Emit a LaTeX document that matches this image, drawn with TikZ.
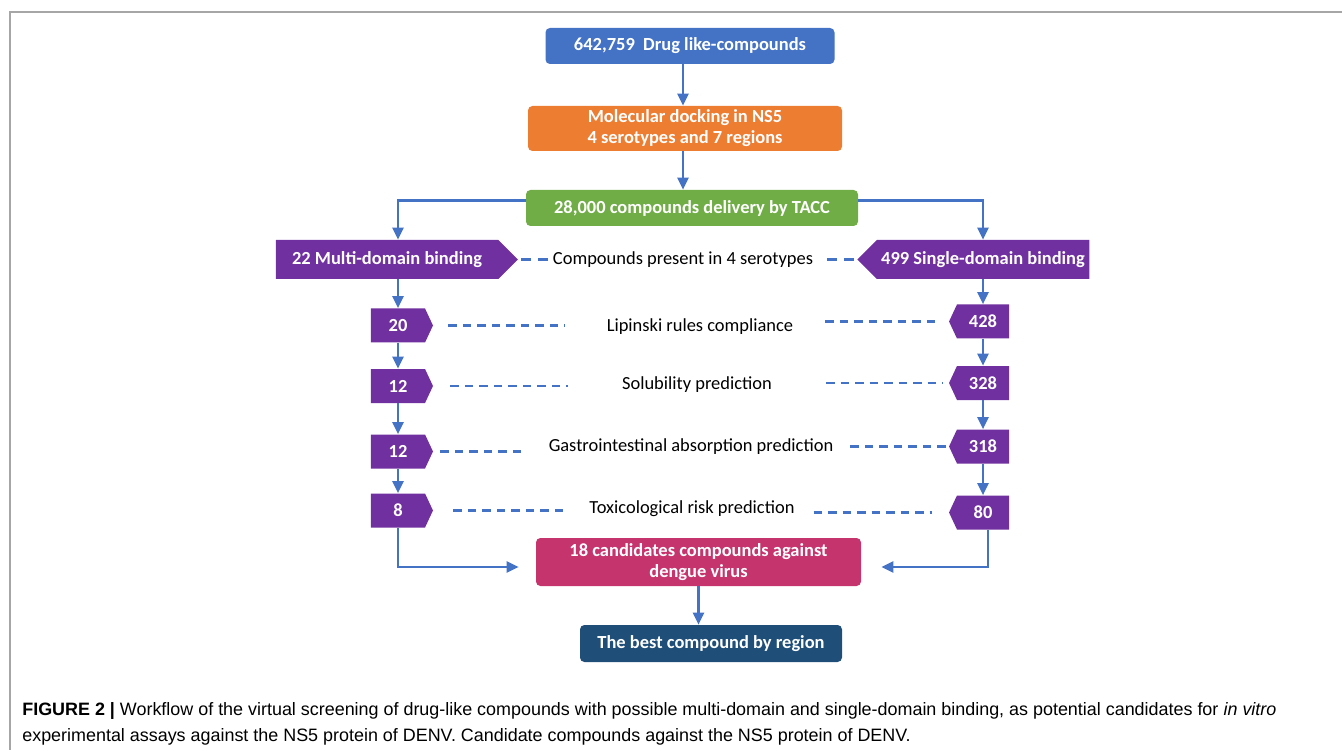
\documentclass[tikz,border=0pt]{standalone}
\usepackage{fontspec}
\setmainfont{Carlito}
\newfontfamily\capfont{Liberation Sans}
\usetikzlibrary{arrows.meta, shapes.symbols}
\definecolor{myblue}{RGB}{68,114,196}
\definecolor{myorange}{RGB}{237,125,49}
\definecolor{mygreen}{RGB}{112,173,71}
\definecolor{mypurple}{RGB}{112,48,160}
\definecolor{mypink}{RGB}{198,52,110}
\definecolor{mynavy}{RGB}{31,78,121}

\begin{document}
\begin{tikzpicture}
    % Define styles for boxes, filters and connectors
    \tikzstyle{box}=[rectangle, rounded corners=2.5pt, text=white, align=center, inner sep=0pt, font=\fontsize{10.5}{12}\selectfont\bfseries]
    \tikzstyle{start box}=[box, fill=myblue, minimum width=5.78cm, minimum height=0.72cm]
    \tikzstyle{dock box}=[box, fill=myorange, minimum width=6.28cm, minimum height=0.9cm]
    \tikzstyle{tacc box}=[box, fill=mygreen, minimum width=6.64cm, minimum height=0.72cm]
    \tikzstyle{result box}=[box, fill=mypink, minimum width=6.5cm, minimum height=0.96cm]
    \tikzstyle{best box}=[box, fill=mynavy, minimum width=5.24cm, minimum height=0.74cm]
    \tikzstyle{filter}=[signal, fill=mypurple, text=white, inner sep=0pt, minimum height=0.68cm, font=\fontsize{10.5}{12}\selectfont\bfseries]
    \tikzstyle{left filter}=[filter, signal to=east, signal pointer angle=130, minimum width=1.24cm]
    \tikzstyle{right filter}=[filter, signal to=west, signal pointer angle=130, minimum width=1.2cm]
    \tikzstyle{filter label}=[font=\fontsize{10.5}{12}\selectfont]
    \tikzstyle{arrow}=[-{Triangle[length=0.24cm,width=0.22cm]}, myblue, line width=1.25pt]
    \tikzstyle{link}=[myblue, line width=1.4pt, dash pattern=on 0.17cm off 0.12cm]

    \useasboundingbox (0,0) rectangle (26.84,15);
    \draw[gray!70, line width=0.8pt] (0.2,0) -- (0.2,14.76) -- (26.84,14.76);

    % Main steps
    \node[start box] (drug) at (13.8,14.08) {642,759\ \ Drug like-compounds};
    \node[dock box] (dock) at (13.7,12.43) {Molecular docking in NS5\\4 serotypes and 7 regions};
    \node[tacc box] (tacc) at (13.84,10.84) {28,000 compounds delivery by TACC};

    % Columns
    \coordinate (colL) at (7.96,0);
    \coordinate (colR) at (19.66,0);

    % Multi-domain branch
    \node[filter, signal to=east, minimum width=4.84cm, minimum height=0.78cm] (multi) at (7.74,9.81) {22 Multi-domain binding};
    \node[left filter] (L1) at (7.96,8.49) {20};
    \node[left filter] (L2) at (7.96,7.28) {12};
    \node[left filter] (L3) at (7.96,5.97) {12};
    \node[left filter] (L4) at (7.96,4.79) {8};

    % Single-domain branch
    \node[filter, signal to=west, minimum width=4.64cm, minimum height=0.78cm] (single) at (19.66,9.81) {499 Single-domain binding};
    \node[right filter] (R1) at (19.66,8.57) {428};
    \node[right filter] (R2) at (19.66,7.34) {328};
    \node[right filter] (R3) at (19.66,6.07) {318};
    \node[right filter] (R4) at (19.66,4.75) {80};

    % Filter labels
    \node[filter label] (T0) at (13.66,9.8) {Compounds present in 4 serotypes};
    \node[filter label] (T1) at (14.0,8.46) {Lipinski rules compliance};
    \node[filter label] (T2) at (13.94,7.3) {Solubility prediction};
    \node[filter label] (T3) at (13.82,6.06) {Gastrointestinal absorption prediction};
    \node[filter label] (T4) at (13.84,4.82) {Toxicological risk prediction};

    % Final steps
    \node[result box] (cand) at (13.97,3.76) {18 candidates compounds against\\dengue virus};
    \node[best box] (best) at (14.22,2.13) {The best compound by region};

    % Connections: main flow
    \draw[arrow] (drug.south -| 13.66,0) -- (dock.north -| 13.66,0);
    \draw[arrow] (dock.south -| 13.66,0) -- (tacc.north -| 13.66,0);
    \draw[arrow] ([yshift=0.15cm]tacc.west) -| (multi.north -| colL);
    \draw[arrow] ([yshift=0.15cm]tacc.east) -| (single.north -| colR);

    % Connections: down each branch
    \foreach \a/\b in {multi/L1, L1/L2, L2/L3, L3/L4} {
        \draw[arrow] (\a.south -| colL) -- (\b.north -| colL);
    }
    \foreach \a/\b in {single/R1, R1/R2, R2/R3, R3/R4} {
        \draw[arrow] (\a.south -| colR) -- (\b.north -| colR);
    }
    \draw[arrow] (L4.south -| colL) |- ([xshift=-0.34cm,yshift=-0.1cm]cand.west);
    \draw[arrow] ([xshift=0.1cm]R4.south -| colR) |- ([xshift=0.4cm,yshift=-0.1cm]cand.east);
    \draw[arrow] (cand.south) -- (best.north -| cand.south);

    % Dashed links to the labels
    \draw[link, dash pattern=on 0.2cm off 0.14cm] ([xshift=0.06cm]multi.east) -- ([xshift=0.6cm]multi.east);
    \draw[link, dash pattern=on 0.2cm off 0.14cm] ([xshift=-0.6cm]single.west) -- ([xshift=-0.06cm]single.west);
    \foreach \i/\a/\b/\c/\d in {1/0.3/0.72/0.52/0.2, 2/0.34/0.96/0.96/0.12, 3/0.14/0.32/0.22/0.04, 4/0.4/0.3/0.26/0.34} {
        \draw[link] ([xshift=\a cm]L\i.east) -- ([xshift=-\b cm]T\i.west |- L\i.east);
        \draw[link] ([xshift=\c cm]T\i.east |- R\i.west) -- ([xshift=-\d cm]R\i.west);
    }

    % Caption
    \node[anchor=base west, inner sep=0pt, font=\capfont\fontsize{10.2}{12}\selectfont] (cap1) at (0.44,0.7) {\textbf{FIGURE 2 |} Workflow of the virtual screening of drug-like compounds with possible multi-domain and single-domain binding, as potential candidates for \textit{in vitro}};
    \node[anchor=base west, inner sep=0pt, font=\capfont\fontsize{10.2}{12}\selectfont] (cap2) at (0.44,0.18) {experimental assays against the NS5 protein of DENV. Candidate compounds against the NS5 protein of DENV.};
\end{tikzpicture}
\end{document}
